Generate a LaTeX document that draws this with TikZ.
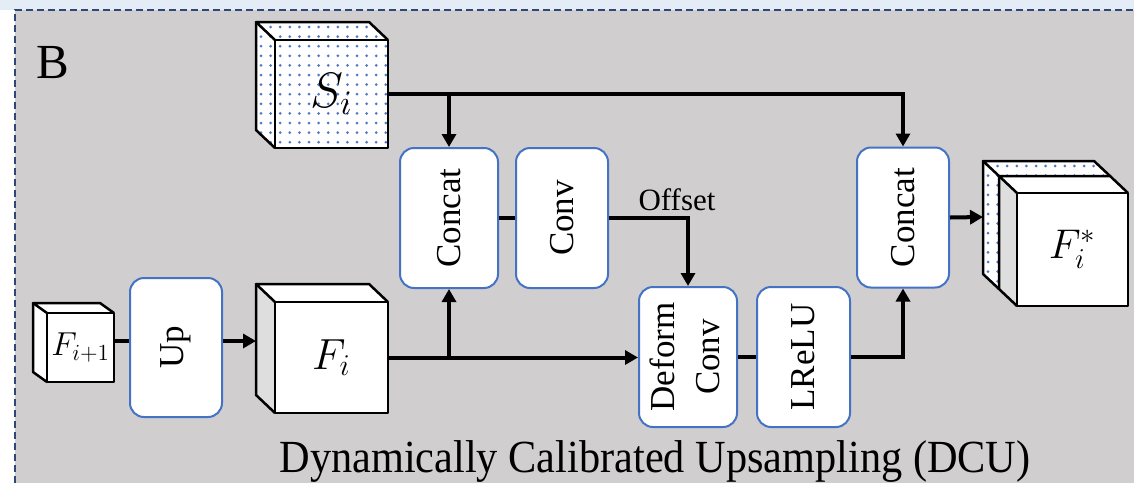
\documentclass[tikz,border=0pt]{standalone}
\usepackage{fontspec}
\setmainfont{Liberation Serif}
\usetikzlibrary{arrows.meta}
\definecolor{bgray}{RGB}{208,206,206}
\definecolor{topstrip}{RGB}{228,236,246}
\definecolor{framec}{RGB}{47,70,120}
\definecolor{boxblue}{RGB}{68,114,196}
\definecolor{dotblue}{RGB}{80,120,200}
\definecolor{sidegray}{RGB}{222,222,222}
\tikzset{
  edge/.style={line width=2.5pt, line join=round, draw=black},
  box/.style={draw=boxblue, line width=2pt, fill=white, rounded corners=14pt, inner sep=0pt, font=\fontsize{35}{45}\selectfont},
  conn/.style={line width=4pt, draw=black},
  arr/.style={conn, -{Triangle[length=13pt,width=14pt]}},
}
\newcommand\bigmath[2]{\scalebox{#1}{\fontsize{20}{24}\selectfont$#2$}}
% #1,#2 front top-left; #3,#4 front bottom-right; #5,#6 depth; #7 side fill; #8 dotted 1/0
\newcommand\drawmycube[8]{%
  \fill[#7] (#1,#2) -- (#1-#5,#2-#6) -- (#1-#5,#4-#6) -- (#1,#4) -- cycle;
  \fill[white] (#1,#2) -- (#1-#5,#2-#6) -- (#3-#5,#2-#6) -- (#3,#2) -- cycle;
  \fill[white] (#1,#2) rectangle (#3,#4);
  \ifnum#8=1
  \begin{scope}
    \clip (#1-#5,#2-#6) -- (#3-#5,#2-#6) -- (#3,#2) -- (#3,#4) -- (#1,#4) -- (#1-#5,#4-#6) -- cycle;
    \foreach \i in {0,...,14}{\foreach \j in {0,...,14}{\fill[dotblue] ({#1-#5+5+\i*9.6},{#2-#6+5+\j*9.6}) circle (1.5);}}
  \end{scope}
  \fi
  \draw[edge] (#1,#2) rectangle (#3,#4);
  \draw[edge] (#1,#2) -- (#1-#5,#2-#6) -- (#3-#5,#2-#6) -- (#3,#2);
  \draw[edge] (#1-#5,#2-#6) -- (#1-#5,#4-#6) -- (#1,#4);
}
\begin{document}
\begin{tikzpicture}[x=1pt,y=-1pt]
\useasboundingbox (0,0) rectangle (1134,483);
% background
\fill[white] (0,0) rectangle (1134,483);
\fill[topstrip] (0,0) rectangle (1134,10);
\fill[bgray] (15,10) rectangle (1134,483);
\draw[framec, line width=2pt, dash pattern=on 7pt off 4pt] (15,483) -- (15,10) -- (1134,10);
\node[font=\fontsize{49}{56}\selectfont, inner sep=0pt] (lblB) at (53,63) {B};

% cubes
\drawmycube{275}{40}{388}{148}{19}{18}{white}{1}
\node[inner sep=0pt, minimum width=113pt, minimum height=108pt] (si) at (331.5,94) {\bigmath{2.4}{S_i}};

\drawmycube{275}{302}{388}{413}{19}{18}{sidegray}{0}
\node[inner sep=0pt, minimum width=113pt, minimum height=111pt] (fi) at (331.5,357.5) {\bigmath{2.1}{F_i}};
\coordinate (fiL) at (256,341);

\drawmycube{47}{313}{114}{382}{14}{10}{white}{0}
\node[inner sep=0pt, minimum width=67pt, minimum height=69pt] (fip) at (80.5,347.5) {\bigmath{1.6}{F_{i+1}}};

\drawmycube{999}{176}{1110}{289}{16}{15}{white}{1}
\drawmycube{1017}{193}{1128}{306}{18}{17}{sidegray}{0}
\node[inner sep=0pt, minimum width=111pt, minimum height=113pt] (fs) at (1072.5,249.5) {\bigmath{2.0}{F_i^*}};
\coordinate (fsL) at (983,217);

% boxes
\node[box, minimum width=92pt, minimum height=139pt] (up) at (176,347.5) {\rotatebox{90}{Up}};
\node[box, minimum width=98pt, minimum height=140pt] (concatA) at (449,218) {\rotatebox{90}{Concat}};
\node[box, minimum width=92pt, minimum height=140pt] (conv) at (562,218) {\rotatebox{90}{Conv}};
\node[box, minimum width=98pt, minimum height=140pt] (deform) at (688,357) {\rotatebox{90}{\begin{tabular}{@{}c@{}}Deform\\Conv\end{tabular}}};
\node[box, minimum width=93pt, minimum height=140pt] (lrelu) at (803.5,357) {\rotatebox{90}{LReLU}};
\node[box, minimum width=92pt, minimum height=140pt] (concatB) at (903,217.5) {\rotatebox{90}{Concat}};

% connectors
\draw[conn] (fip.east |- fiL) -- (up.west |- fiL);
\draw[arr] (up.east |- fiL) -- (fiL);
\draw[arr] (fi.east) -- (deform.west |- fi.east);
\draw[arr] (concatA.south |- fi.east) -- (concatA.south);
\draw[arr] (si.east) -| (concatB.north);
\draw[arr] (concatA.north |- si.east) -- (concatA.north);
\draw[conn] (concatA.east) -- (conv.west);
\draw[arr] (conv.east) -| (deform.north);
\draw[conn] (deform.east) -- (lrelu.west);
\draw[arr] (lrelu.east) -| (concatB.south);
\draw[arr] (concatB.east) -- (fsL);

% labels
\node[anchor=base, inner sep=0pt, font=\fontsize{31}{36}\selectfont] (offset) at (677,210) {Offset};
\node[anchor=base, inner sep=0pt] (title) at (655,472) {\scalebox{0.92}[1]{\fontsize{46}{52}\selectfont Dynamically Calibrated Upsampling (DCU)}};
\end{tikzpicture}
\end{document}
